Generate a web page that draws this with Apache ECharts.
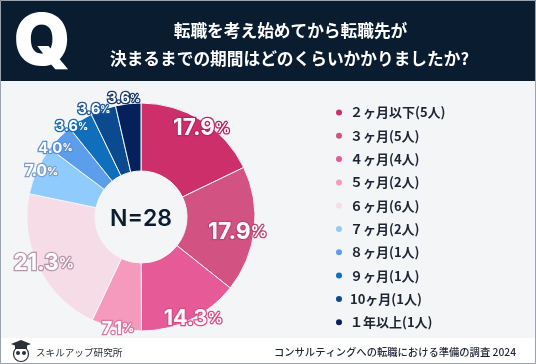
<!DOCTYPE html>
<html>
<head>
<meta charset="utf-8">
<style>
  html, body { margin: 0; padding: 0; background: #fff; }
  #chart { width: 536px; height: 364px; }
</style>
<script src="https://cdn.jsdelivr.net/npm/echarts@6/dist/echarts.min.js"></script>
</head>
<body>
<div id="chart"></div>
<script>
const categories = ['２ヶ月以下(5人)', '３ヶ月(5人)', '４ヶ月(4人)', '５ヶ月(2人)', '６ヶ月(6人)', '７ヶ月(2人)', '８ヶ月(1人)', '９ヶ月(1人)', '10ヶ月(1人)', '１年以上(1人)'];
const percents = [17.9, 17.9, 14.3, 7.1, 21.3, 7.0, 4.0, 3.6, 3.6, 3.6];
const colors = ['#cd2f6b', '#d25382', '#e65a97', '#f59abd', '#f6dce7', '#8fcbfd', '#5c9eec', '#0f6fbd', '#0b4a8e', '#04215c'];
// label outline, size and nudge from the ring middle, per slice
const labelBorders = ['#b82560', '#bd4571', '#d84c88', '#d87aa0', '#bd93a8', '#7f9fc8', '#5c8fd6', '#1a6cb4', '#1f5a9a', '#1c3a70'];
const labelSizes = [22.5, 23, 21.5, 18, 22.5, 15.5, 15, 14.5, 14.5, 14.5];
const labelOffsets = [[16.5, -18], [14, 6], [16, 27], [-5, 30.5], [-23, 9], [-24, -11], [-26, -11], [-25, -20], [-19.5, -29], [-8, -36]];

const font = '"Noto Sans CJK JP", "Noto Sans", sans-serif';
const navy = '#0a1c30';

const myChart = echarts.init(document.getElementById('chart'));

const seriesData = categories.map((name, i) => ({
  name: name,
  value: percents[i],
  itemStyle: { color: colors[i] },
  label: {
    formatter: '{n|' + percents[i].toFixed(1) + '}{p|%}',
    rich: {
      n: {
        fontFamily: 'Inter, sans-serif',
        fontWeight: 700,
        fontSize: labelSizes[i],
        color: '#fff',
        textBorderColor: labelBorders[i],
        textBorderWidth: 2.5
      },
      p: {
        fontFamily: 'Inter, sans-serif',
        fontWeight: 700,
        fontSize: Math.round(labelSizes[i] * 0.68),
        color: '#fff',
        textBorderColor: labelBorders[i],
        textBorderWidth: 2.5
      }
    }
  }
}));

const option = {
  animation: false,
  backgroundColor: '#f4f5f7',
  color: colors,
  legend: {
    orient: 'vertical',
    left: 329,
    top: 99.5,
    icon: 'circle',
    itemWidth: 8,
    itemHeight: 8,
    itemGap: 7.3,
    selectedMode: false,
    data: categories,
    textStyle: {
      fontFamily: font,
      fontSize: 13,
      fontWeight: 700,
      color: '#1d2433',
      lineHeight: 16,
      padding: [0, 0, 0, 2]
    }
  },
  series: [
    {
      type: 'pie',
      center: [141, 217],
      radius: [46, 114],
      startAngle: 90,
      clockwise: true,
      avoidLabelOverlap: false,
      itemStyle: { borderColor: '#f4f5f7', borderWidth: 1 },
      label: { show: true, position: 'inside', rotate: 0 },
      labelLine: { show: false },
      labelLayout: params => ({
        dx: labelOffsets[params.dataIndex][0],
        dy: labelOffsets[params.dataIndex][1],
        hideOverlap: false
      }),
      emphasis: { disabled: true },
      z: 5,
      data: seriesData
    }
  ],
  graphic: [
    // header band
    { type: 'rect', z: 1, shape: { x: 0, y: 0, width: 536, height: 81 }, style: { fill: navy } },
    { type: 'text', z: 2, x: 42, y: 43, style: { text: 'Q', font: '900 72px Inter, sans-serif', fill: '#fff', align: 'center', verticalAlign: 'middle' } },
    { type: 'text', z: 2, x: 290.5, y: 31, style: { text: '転職を考え始めてから転職先が', font: '700 16.7px ' + font, fill: '#fff', align: 'center', verticalAlign: 'middle' } },
    { type: 'text', z: 2, x: 289.5, y: 59, style: { text: '決まるまでの期間はどのくらいかかりましたか?', font: '700 16.7px ' + font, fill: '#fff', align: 'center', verticalAlign: 'middle' } },
    // centre
    { type: 'text', z: 10, x: 141, y: 219, style: { text: 'N=28', font: '600 23px Inter, sans-serif', fill: navy, align: 'center', verticalAlign: 'middle' } },
    // footer
    { type: 'rect', z: 1, shape: { x: 0, y: 338, width: 536, height: 26 }, style: { fill: '#fff' } },
    { type: 'text', z: 2, x: 36, y: 352, style: { text: 'スキルアップ研究所', font: '400 9.6px ' + font, fill: '#2a2f38', align: 'left', verticalAlign: 'middle' } },
    { type: 'text', z: 2, x: 516, y: 352, style: { text: 'コンサルティングへの転職における準備の調査 2024', font: '500 10.3px ' + font, fill: '#1d2433', align: 'right', verticalAlign: 'middle' } },
    // owl logo
    { type: 'polygon', z: 3, shape: { points: [[11, 344], [21, 340], [31, 344], [21, 348]] }, style: { fill: '#2a2f38' } },
    { type: 'rect', z: 3, shape: { x: 15, y: 345, width: 12, height: 4 }, style: { fill: '#2a2f38' } },
    { type: 'circle', z: 2, shape: { cx: 21, cy: 354, r: 7.5 }, style: { fill: '#fff', stroke: '#2a2f38', lineWidth: 1.2 } },
    { type: 'circle', z: 3, shape: { cx: 18, cy: 353, r: 2 }, style: { fill: '#2a2f38' } },
    { type: 'circle', z: 3, shape: { cx: 24, cy: 353, r: 2 }, style: { fill: '#2a2f38' } },
    // image frame
    { type: 'rect', z: 20, shape: { x: 0.5, y: 0.5, width: 535, height: 363 }, style: { fill: 'none', stroke: '#9aa3ad', lineWidth: 1 } }
  ]
};

myChart.setOption(option);
</script>
</body>
</html>
